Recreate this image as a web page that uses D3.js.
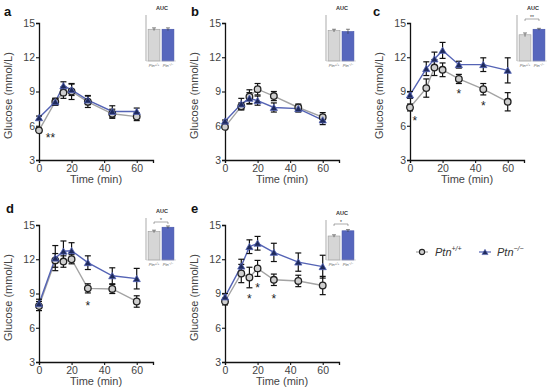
<!DOCTYPE html>
<html>
<head>
<meta charset="utf-8">
<script src="https://cdn.jsdelivr.net/npm/d3@7"></script>
<style>
  body { margin: 0; background: #fff; }
  text { font-family: "Liberation Sans", Arial, sans-serif; }
</style>
</head>
<body>
<div id="chart-area"></div>
<script>
// time points (min)
var times = [0, 10, 15, 20, 30, 45, 60];

// glucose means and SEM, Ptn+/+ (wt) and Ptn-/- (ko), panels a-e
var wtA = [5.6, 8.1, 8.9, 9.0, 8.1, 7.05, 6.8];
var wtAErr = [0.2, 0.3, 0.5, 0.7, 0.5, 0.4, 0.35];
var koA = [6.7, 8.1, 9.5, 9.15, 8.25, 7.25, 7.25];
var koAErr = [0.15, 0.3, 0.35, 0.5, 0.4, 0.5, 0.3];

var wtB = [5.9, 7.7, 8.55, 9.2, 8.6, 7.6, 6.75];
var wtBErr = [0.15, 0.3, 0.6, 0.5, 0.4, 0.3, 0.4];
var koB = [6.4, 7.9, 8.4, 8.2, 7.6, 7.5, 6.5];
var koBErr = [0.1, 0.5, 0.5, 0.4, 0.4, 0.3, 0.4];

var wtC = [7.6, 9.3, 11.1, 10.9, 10.1, 9.2, 8.1];
var wtCErr = [0.3, 0.8, 0.7, 0.6, 0.4, 0.5, 0.8];
var koC = [8.7, 11.0, 11.85, 12.6, 11.35, 11.35, 10.85];
var koCErr = [0.3, 0.6, 0.6, 0.7, 0.3, 0.6, 1.1];

var wtD = [7.9, 11.9, 11.8, 12.0, 9.45, 9.4, 8.3];
var wtDErr = [0.4, 0.6, 0.5, 0.4, 0.4, 0.4, 0.5];
var koD = [8.1, 12.1, 12.7, 12.75, 11.7, 10.55, 10.3];
var koDErr = [0.4, 1.1, 0.9, 0.7, 0.6, 0.7, 0.9];

var wtE = [8.3, 10.75, 10.4, 11.2, 10.2, 10.1, 9.7];
var wtEErr = [0.3, 0.8, 0.9, 0.7, 0.5, 0.5, 0.8];
var koE = [8.7, 11.4, 13.1, 13.4, 12.6, 11.75, 11.35];
var koEErr = [0.3, 0.6, 0.6, 0.6, 0.8, 0.8, 1.0];

// significance marks: [time, glucose, label]
var starsA = [[7, 5.0, "**"]];
var starsB = [];
var starsC = [[3, 6.5, "*"], [30, 8.9, "*"], [45, 7.8, "*"]];
var starsD = [[30, 8.0, "*"]];
var starsE = [[15, 8.6, "*"], [20, 9.6, "*"], [30, 8.6, "*"]];

// AUC insets (arbitrary units)
var aucWT = [690, 660, 570, 680, 600];
var aucWTErr = [30, 30, 40, 30, 30];
var aucKO = [690, 640, 690, 780, 730];
var aucKOErr = [30, 50, 20, 30, 30];
var aucSig = ["", "", "**", "*", "*"];

var panelLetters = ["a", "b", "c", "d", "e"];
var yTicks = [3, 6, 9, 12, 15];
var xTicks = [0, 20, 40, 60];

var wtColor = "#a3a3a3", koColor = "#5463b5";

var svg = d3.select("#chart-area").append("svg")
  .attr("width", 550)
  .attr("height", 391);

// panel positions (y-axis x, top of plot)
var panels = [
  { x: 39, y: 23, wt: wtA, wtErr: wtAErr, ko: koA, koErr: koAErr, stars: starsA, inset: [146, 15, 61], lx: 4, ly: 16 },
  { x: 225, y: 23, wt: wtB, wtErr: wtBErr, ko: koB, koErr: koBErr, stars: starsB, inset: [326, 15, 61], lx: 191, ly: 16 },
  { x: 410, y: 23, wt: wtC, wtErr: wtCErr, ko: koC, koErr: koCErr, stars: starsC, inset: [517, 15, 61], lx: 373, ly: 16 },
  { x: 39, y: 225, wt: wtD, wtErr: wtDErr, ko: koD, koErr: koDErr, stars: starsD, inset: [146, 218, 260], lx: 6, ly: 213 },
  { x: 225, y: 225, wt: wtE, wtErr: wtEErr, ko: koE, koErr: koEErr, stars: starsE, inset: [326, 220, 260], lx: 191, ly: 213 }
];

var plotH = 137, plotW = 114;

function triangle(r) {
  return "M0," + (-r) + "L" + (r * 0.95) + "," + (r * 0.65) + "L" + (-r * 0.95) + "," + (r * 0.65) + "Z";
}

panels.forEach(function(p, i) {
  var g = svg.append("g").attr("transform", "translate(" + p.x + "," + p.y + ")");

  var x = d3.scaleLinear().domain([0, 70]).range([0, plotW]);
  var y = d3.scaleLinear().domain([3, 15]).range([plotH, 0]);

  var xAxis = g.append("g")
    .attr("transform", "translate(0," + plotH + ")")
    .call(d3.axisBottom(x).tickValues(xTicks).tickSize(3).tickPadding(2));
  var yAxis = g.append("g")
    .call(d3.axisLeft(y).tickValues(yTicks).tickSize(3).tickPadding(1));
  [xAxis, yAxis].forEach(function(a) {
    a.select(".domain").attr("stroke", "#111").attr("stroke-width", 1.3);
    a.selectAll(".tick line").attr("stroke", "#111").attr("stroke-width", 1.1);
    a.selectAll(".tick text").attr("font-size", "10.5px").attr("fill", "#444");
  });

  g.append("text")
    .attr("x", x(35)).attr("y", plotH + 23)
    .attr("text-anchor", "middle")
    .attr("font-size", "11px").attr("fill", "#444")
    .text("Time (min)");

  g.append("text")
    .attr("transform", "rotate(-90)")
    .attr("x", -plotH * 0.53).attr("y", -27)
    .attr("text-anchor", "middle")
    .attr("font-size", "11px").attr("fill", "#444")
    .text("Glucose (mmol/L)");

  svg.append("text")
    .attr("x", p.lx).attr("y", p.ly)
    .attr("font-size", "13px").attr("font-weight", "bold").attr("fill", "#111")
    .text(panelLetters[i]);

  var line = d3.line()
    .x(function(d, j) { return x(times[j]); })
    .y(function(d) { return y(d); });

  g.append("path").attr("d", line(p.wt))
    .attr("fill", "none").attr("stroke", wtColor).attr("stroke-width", 1.4);
  g.append("path").attr("d", line(p.ko))
    .attr("fill", "none").attr("stroke", koColor).attr("stroke-width", 1.4);

  // error bars
  function errBars(vals, errs) {
    vals.forEach(function(v, j) {
      var cx = x(times[j]);
      var eg = g.append("g").attr("stroke", "#111").attr("stroke-width", 1.2);
      eg.append("line").attr("x1", cx).attr("x2", cx).attr("y1", y(v - errs[j])).attr("y2", y(v + errs[j]));
      eg.append("line").attr("x1", cx - 3).attr("x2", cx + 3).attr("y1", y(v - errs[j])).attr("y2", y(v - errs[j]));
      eg.append("line").attr("x1", cx - 3).attr("x2", cx + 3).attr("y1", y(v + errs[j])).attr("y2", y(v + errs[j]));
    });
  }
  errBars(p.wt, p.wtErr);
  errBars(p.ko, p.koErr);

  g.selectAll(".wt").data(p.wt).enter().append("circle")
    .attr("cx", function(d, j) { return x(times[j]); })
    .attr("cy", function(d) { return y(d); })
    .attr("r", 3.3)
    .attr("fill", "#cfcfcf").attr("stroke", "#222").attr("stroke-width", 1.3);

  g.selectAll(".ko").data(p.ko).enter().append("path")
    .attr("d", triangle(3.8))
    .attr("transform", function(d, j) { return "translate(" + x(times[j]) + "," + (y(d) + 0.5) + ")"; })
    .attr("fill", "#1e2a5c").attr("stroke", "#5463b5").attr("stroke-width", 0.8);

  g.selectAll(".star").data(p.stars).enter().append("text")
    .attr("x", function(d) { return x(d[0]); })
    .attr("y", function(d) { return y(d[1]) + 5; })
    .attr("text-anchor", "middle")
    .attr("font-size", "12px").attr("fill", "#222")
    .text(function(d) { return d[2]; });

  // AUC inset
  var ix = p.inset[0], itop = p.inset[1], ibot = p.inset[2];
  var ig = svg.append("g");
  var ax = d3.scaleBand().domain(["wt", "ko"]).range([ix, ix + 30]).paddingInner(0.15).paddingOuter(0.15);
  var ay = d3.scaleLinear().domain([0, 1000]).range([ibot, itop]);

  ig.append("text")
    .attr("x", ix + 16).attr("y", itop - 5)
    .attr("text-anchor", "middle")
    .attr("font-size", "5.5px").attr("font-weight", "bold").attr("fill", "#333")
    .text("AUC");

  var bars = [["wt", aucWT[i], aucWTErr[i], "#d6d6d6", "#9a9a9a"], ["ko", aucKO[i], aucKOErr[i], "#5666bd", "#4453a8"]];
  bars.forEach(function(b) {
    ig.append("rect")
      .attr("x", ax(b[0])).attr("y", ay(b[1]))
      .attr("width", ax.bandwidth()).attr("height", ibot - ay(b[1]))
      .attr("fill", b[3]).attr("stroke", b[4]).attr("stroke-width", 0.6);
    var cx = ax(b[0]) + ax.bandwidth() / 2;
    ig.append("line").attr("x1", cx).attr("x2", cx)
      .attr("y1", ay(b[1] - b[2])).attr("y2", ay(b[1] + b[2]))
      .attr("stroke", "#333").attr("stroke-width", 0.6);
    ig.append("line").attr("x1", cx - 2).attr("x2", cx + 2)
      .attr("y1", ay(b[1] + b[2])).attr("y2", ay(b[1] + b[2]))
      .attr("stroke", "#333").attr("stroke-width", 0.6);
  });
  ig.append("line").attr("x1", ix).attr("x2", ix).attr("y1", itop).attr("y2", ibot)
    .attr("stroke", "#888").attr("stroke-width", 0.7);
  ig.append("line").attr("x1", ix).attr("x2", ix + 30).attr("y1", ibot).attr("y2", ibot)
    .attr("stroke", "#bbb").attr("stroke-width", 0.5);

  [["wt", "+/+"], ["ko", "\u2212/\u2212"]].forEach(function(l) {
    var t = ig.append("text")
      .attr("x", ax(l[0]) + ax.bandwidth() / 2).attr("y", ibot + 6)
      .attr("text-anchor", "middle")
      .attr("font-size", "4px").attr("font-style", "italic").attr("fill", "#666");
    t.append("tspan").text("Ptn");
    t.append("tspan").attr("dy", -1.5).attr("font-size", "3px").text(l[1]);
  });

  if (aucSig[i]) {
    var x1 = ax("wt") + ax.bandwidth() / 2, x2 = ax("ko") + ax.bandwidth() / 2;
    var by = itop + 4;
    ig.append("path")
      .attr("d", "M" + x1 + "," + (by + 2) + "V" + by + "H" + x2 + "V" + (by + 2))
      .attr("fill", "none").attr("stroke", "#555").attr("stroke-width", 0.5);
    ig.append("text")
      .attr("x", (x1 + x2) / 2).attr("y", by - 0.5)
      .attr("text-anchor", "middle")
      .attr("font-size", "5px").attr("fill", "#333")
      .text(aucSig[i]);
  }
});

// legend
var leg = svg.append("g").attr("transform", "translate(0,252)");
leg.append("line").attr("x1", 416).attr("x2", 428).attr("stroke", wtColor).attr("stroke-width", 1.2);
leg.append("circle").attr("cx", 422).attr("r", 2.6)
  .attr("fill", "#cfcfcf").attr("stroke", "#222").attr("stroke-width", 1.1);
var lt1 = leg.append("text").attr("x", 435).attr("y", 4)
  .attr("font-size", "11px").attr("font-style", "italic").attr("fill", "#333");
lt1.append("tspan").text("Ptn");
lt1.append("tspan").attr("dy", -5).attr("font-size", "7px").text("+/+");

leg.append("line").attr("x1", 479).attr("x2", 491).attr("stroke", koColor).attr("stroke-width", 1.2);
leg.append("path").attr("d", triangle(3.2)).attr("transform", "translate(485,0.5)")
  .attr("fill", "#1e2a5c").attr("stroke", "#5463b5").attr("stroke-width", 0.6);
var lt2 = leg.append("text").attr("x", 497).attr("y", 4)
  .attr("font-size", "11px").attr("font-style", "italic").attr("fill", "#333");
lt2.append("tspan").text("Ptn");
lt2.append("tspan").attr("dy", -5).attr("font-size", "7px").text("\u2212/\u2212");
</script>
</body>
</html>
